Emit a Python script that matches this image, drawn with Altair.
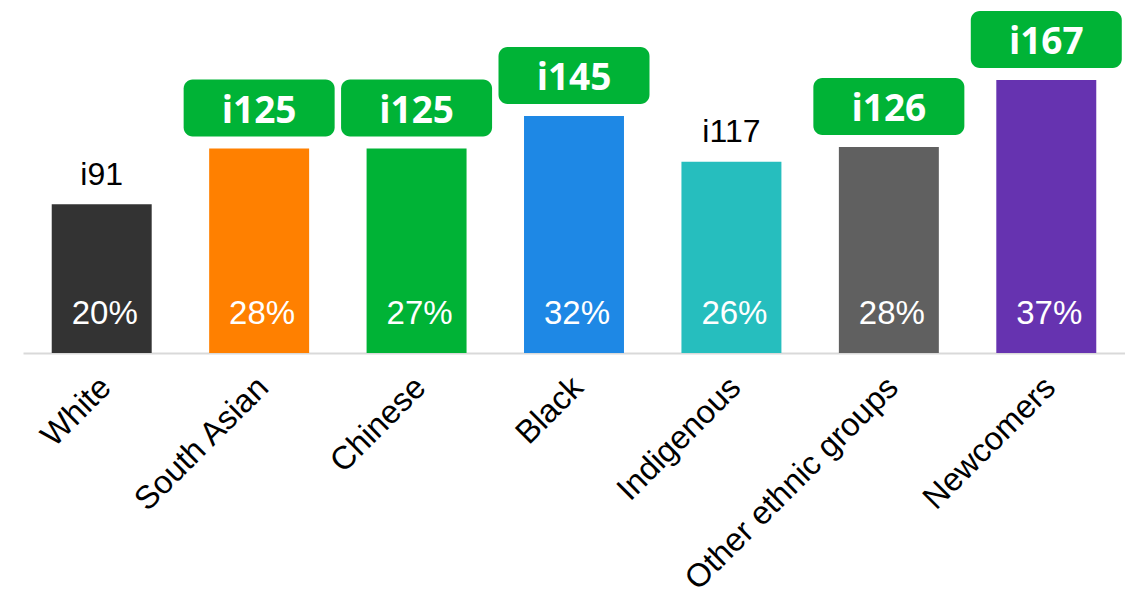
import altair as alt
import pandas as pd

categories = ["White", "South Asian", "Chinese", "Black", "Indigenous",
              "Other ethnic groups", "Newcomers"]
index_values = [91, 125, 125, 145, 117, 126, 167]
pct_values = [20, 28, 27, 32, 26, 28, 37]
highlighted = [False, True, True, True, False, True, True]
bar_colors = ["#333333", "#FF8000", "#00B336", "#1E88E5", "#26BEBE",
              "#606060", "#6633B0"]
box_green = "#00B336"

df = pd.DataFrame({
    "category": categories,
    "index": index_values,
    "pct": pct_values,
    "hl": highlighted,
})

PLOT_H = 345
Y_MAX = 211
K = PLOT_H / Y_MAX  # pixels per index unit

x = alt.X("category:N", sort=categories,
          scale=alt.Scale(paddingInner=0.365, paddingOuter=0.1825),
          axis=alt.Axis(title=None, labelAngle=-45, labelAlign="right",
                        labelBaseline="middle", labelFont="Liberation Sans",
                        labelFontSize=32.5, labelColor="#000000",
                        labelPadding=29, labelOffset=4, ticks=False,
                        domainColor="#d9d9d9", domainWidth=2, grid=False,
                        labelLimit=400))
yscale = alt.Scale(domain=[0, Y_MAX], nice=False, zero=True)

base = alt.Chart(df)

bars = base.mark_bar().encode(
    x=x,
    y=alt.Y("index:Q", scale=yscale, axis=None),
    color=alt.Color("category:N", scale=alt.Scale(domain=categories, range=bar_colors),
                    legend=None),
)

boxes = base.transform_filter("datum.hl").transform_calculate(
    lo=f"datum.index + 12/{K}", hi=f"datum.index + 69/{K}"
).mark_bar(width=151, cornerRadius=9, color=box_green).encode(
    x=x,
    y=alt.Y("lo:Q", scale=yscale, axis=None),
    y2="hi:Q",
)

box_text = base.transform_filter("datum.hl").transform_calculate(
    lab="'i' + datum.index"
).mark_text(font="Open Sans", fontWeight="bold", fontSize=37, color="white",
            baseline="alphabetic", dy=-26).encode(
    x=x,
    y=alt.Y("index:Q", scale=yscale, axis=None),
    text="lab:N",
)

plain_text = base.transform_filter("!datum.hl").transform_calculate(
    lab="'i' + datum.index"
).mark_text(font="Liberation Sans", fontSize=32, color="#000000",
            baseline="alphabetic", dy=-19.5).encode(
    x=x,
    y=alt.Y("index:Q", scale=yscale, axis=None),
    text="lab:N",
)

pct_text = base.transform_calculate(
    lab="datum.pct + '%'"
).mark_text(font="Liberation Sans", fontSize=33, color="white",
            baseline="alphabetic", dy=-29, dx=3).encode(
    x=x,
    y=alt.datum(0, scale=yscale),
    text="lab:N",
)

chart = alt.layer(bars, boxes, box_text, plain_text, pct_text).properties(
    width=1102, height=PLOT_H,
    background="white",
    autosize=alt.AutoSizeParams(type="none"),
    padding={"left": 15, "top": 0, "right": 0, "bottom": 243},
).configure_view(stroke=None)

chart.save("out.html", embed_options={"renderer": "svg", "actions": False})
